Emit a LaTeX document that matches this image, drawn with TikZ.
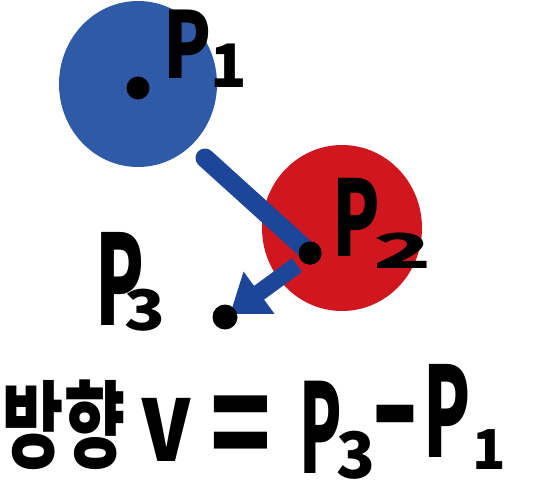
\documentclass[tikz,border=0pt]{standalone}
\usepackage{fontspec}
\setmainfont{Noto Sans CJK KR}
\usetikzlibrary{arrows.meta}
\definecolor{bluedisk}{RGB}{46,90,168}
\definecolor{bluearrow}{RGB}{30,70,152}
\definecolor{redblob}{RGB}{208,22,30}
\newcommand\hwtext[4]{{\fontsize{#1}{#1}\selectfont\bfseries\scalebox{#2}[#3]{#4}}}
\begin{document}
\begin{tikzpicture}[x=1pt,y=-1pt,
  glyph/.style={inner sep=0pt,outer sep=0pt,anchor=center,text=black},
  dotmark/.style={circle,fill=black,inner sep=0pt,minimum size=23pt},
  stroke/.style={draw=bluearrow,line width=19pt,line cap=round}]
\useasboundingbox (0,0) rectangle (534,500);
% disks
\fill[bluedisk] (138,84) ellipse [x radius=79, y radius=83];
\fill[redblob] (342,228) ellipse [x radius=80, y radius=83];
% connectors
\coordinate (s1) at (205,158);
\coordinate (s2) at (297,265);
\coordinate (e2) at (230,314);
\node[dotmark] (d2) at (310,253) {};
\draw[stroke] (s1) -- (d2.center);
\draw[draw=bluearrow,line width=17pt,-{Triangle[length=36pt,width=50pt]}] (s2) -- (e2);
% dots
\node[dotmark] (d1) at (138,88) {};
\node[dotmark] (d2b) at (310,253) {};
\node[dotmark,minimum size=25pt] (d3) at (225,317) {};
% labels P1, P2, P3
\node[glyph] (p1) at (188,44) {\hwtext{92}{0.76}{1}{P}};
\node[glyph] (p1s) at (229,66) {\hwtext{60}{1}{1}{1}};
\node[glyph] (p2) at (356,217) {\hwtext{105}{0.66}{1}{P}};
\node[glyph] (p2s) at (403,251) {\hwtext{48}{2}{1}{2}};
\node[glyph] (p3) at (120,279) {\hwtext{125}{0.57}{1}{P}};
\node[glyph] (p3s) at (145,310) {\hwtext{56}{1.2}{1}{3}};
% formula
\node[glyph] (f1) at (64,425) {\hwtext{95}{0.7}{1}{방향}};
\node[glyph] (f2) at (166,430) {\hwtext{111}{0.77}{1}{v}};
\node[glyph] (f3) at (241,435) {\hwtext{100}{1}{1.35}{=}};
\node[glyph] (f4) at (321,427) {\hwtext{124}{0.5}{1}{P}};
\node[glyph] (f5) at (356,455) {\hwtext{64}{1}{1}{3}};
\node[glyph] (f6) at (395,430) {\hwtext{100}{1.3}{1.4}{-}};
\node[glyph] (f7) at (447,411) {\hwtext{125}{0.55}{1}{P}};
\node[glyph] (f8) at (489,450) {\hwtext{55}{1}{1}{1}};
\end{tikzpicture}
\end{document}
